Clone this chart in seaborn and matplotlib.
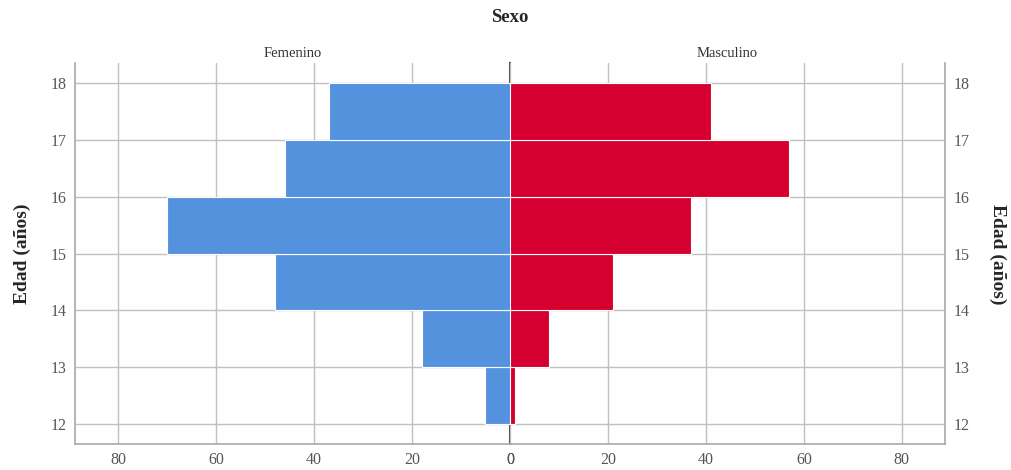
import numpy as np
import pandas as pd
import matplotlib
matplotlib.use("Agg")
import matplotlib.pyplot as plt
import seaborn as sns

# age bins (lower edge) and counts per sex
edades = [12, 13, 14, 15, 16, 17]
femenino = [5, 18, 48, 70, 46, 37]
masculino = [1, 8, 21, 37, 57, 41]
bordes = [12, 13, 14, 15, 16, 17, 18]
ticks_x = [0, 20, 40, 60, 80]

azul = "#5592DE"
rojo = "#D5002F"
gris = "#A8A8A8"

sns.set_style("white")
plt.rcParams["font.family"] = ["Liberation Serif", "DejaVu Serif"]

df = pd.DataFrame({"Edad": edades, "Femenino": femenino, "Masculino": masculino})

fig = plt.figure(figsize=(10.12, 4.70), dpi=100)
ax_f = fig.add_axes([0.0741, 0.0553, 0.4298, 0.8106])
ax_m = fig.add_axes([0.5039, 0.0553, 0.4298, 0.8106])

sns.histplot(data=df, y="Edad", weights="Femenino", bins=bordes, ax=ax_f,
             color=azul, alpha=1, edgecolor="white", linewidth=0.8, zorder=3)
sns.histplot(data=df, y="Edad", weights="Masculino", bins=bordes, ax=ax_m,
             color=rojo, alpha=1, edgecolor="white", linewidth=0.8, zorder=3)

for ax in (ax_f, ax_m):
    ax.set_xlim(0, 88.8)
    ax.set_ylim(11.65, 18.35)
    ax.set_xticks(ticks_x)
    ax.set_yticks(bordes)
    ax.grid(True, color="#C0C0C0", linewidth=1, zorder=0)
    ax.set_axisbelow(True)
    ax.set_xlabel("")
    ax.set_ylabel("")
    ax.spines["top"].set_visible(False)
    for s in ("left", "right", "bottom"):
        ax.spines[s].set_color(gris)
        ax.spines[s].set_linewidth(1.2)
    ax.tick_params(axis="both", labelsize=11.5, labelcolor="#555555", length=0, pad=6)

ax_f.invert_xaxis()
ax_f.spines["right"].set_color("#555555")
ax_f.spines["right"].set_linewidth(1.5)
ax_m.spines["left"].set_visible(False)
ax_m.yaxis.tick_right()
ax_m.tick_params(axis="y", labelright=True, labelleft=False)

ax_f.set_title("Femenino", fontsize=10.5, pad=4, color="#333333")
ax_m.set_title("Masculino", fontsize=10.5, pad=4, color="#333333")
fig.text(0.504, 0.962, "Sexo", ha="center", va="center", fontsize=13.5, fontweight="bold")

fig.text(0.022, 0.46, "Edad (años)", rotation=90, ha="center", va="center",
         fontsize=14, fontweight="bold")
fig.text(0.986, 0.46, "Edad (años)", rotation=-90, ha="center", va="center",
         fontsize=14, fontweight="bold")

fig.savefig("out.png", dpi=100)
